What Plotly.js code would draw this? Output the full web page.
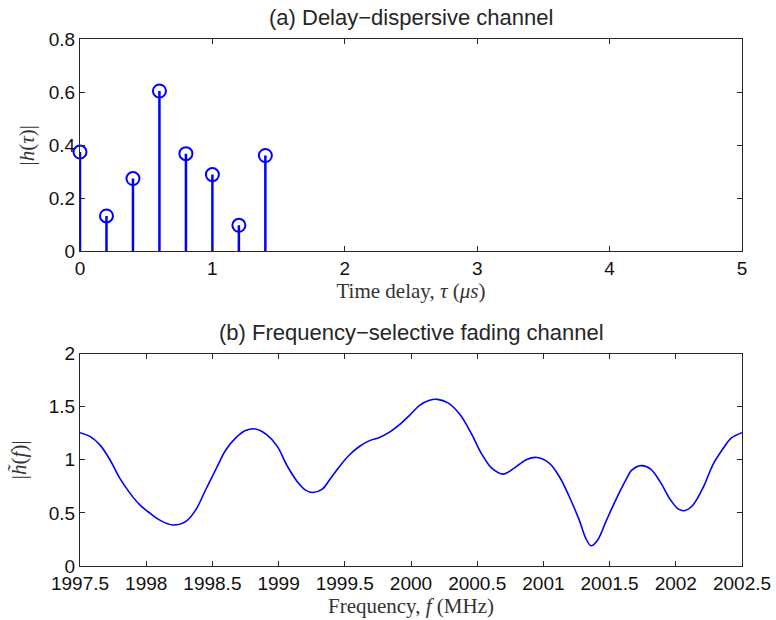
<!DOCTYPE html>
<html>
<head>
<meta charset="utf-8">
<script src="https://cdn.plot.ly/plotly-3.0.1.min.js"></script>
<style>
  html, body { margin: 0; padding: 0; background: #ffffff; }
  #chart { width: 776px; height: 620px; }
</style>
</head>
<body>
<div id="chart"></div>
<script>
// Tap delays (μs) and tap magnitudes of the multipath channel
const tapDelays = [0, 0.2, 0.4, 0.6, 0.8, 1.0, 1.2, 1.4];
const tapMagnitudes = [0.374, 0.133, 0.274, 0.604, 0.368, 0.289, 0.098, 0.361];

// Frequency response magnitude across the band (MHz)
const freqMHz = [
  1997.5, 1997.575, 1997.65, 1997.726, 1997.8, 1997.877, 1997.952, 1998.028, 1998.1, 1998.2,
  1998.3, 1998.375, 1998.45, 1998.53, 1998.6, 1998.68, 1998.75, 1998.825, 1998.91, 1998.99,
  1999.06, 1999.14, 1999.2, 1999.26, 1999.33, 1999.385, 1999.46, 1999.536, 1999.61, 1999.687,
  1999.762, 1999.838, 1999.913, 1999.989, 2000.065, 2000.14, 2000.2, 2000.28, 2000.37, 2000.46,
  2000.53, 2000.61, 2000.695, 2000.78, 2000.87, 2000.95, 2001.044, 2001.12, 2001.195, 2001.27,
  2001.32, 2001.36, 2001.41, 2001.472, 2001.547, 2001.623, 2001.665, 2001.74, 2001.81, 2001.88,
  2001.96, 2002.02, 2002.07, 2002.13, 2002.21, 2002.28, 2002.36, 2002.42, 2002.5
];
const freqResponse = [
  1.255, 1.22, 1.14, 1.0, 0.827, 0.686, 0.575, 0.497, 0.434, 0.386,
  0.42, 0.53, 0.72, 0.92, 1.09, 1.21, 1.275, 1.29, 1.236, 1.126,
  0.953, 0.796, 0.717, 0.692, 0.723, 0.811, 0.937, 1.047, 1.125, 1.18,
  1.21, 1.26, 1.33, 1.418, 1.512, 1.56, 1.568, 1.535, 1.425, 1.236,
  1.063, 0.921, 0.865, 0.921, 1.0, 1.022, 0.969, 0.842, 0.654, 0.434,
  0.261, 0.19, 0.245, 0.418, 0.623, 0.81, 0.9, 0.945, 0.912, 0.796,
  0.623, 0.535, 0.522, 0.575, 0.748, 0.953, 1.11, 1.205, 1.255
];

const delayTicks = [0, 1, 2, 3, 4, 5];
const tapTicks = [0, 0.2, 0.4, 0.6, 0.8];
const freqTicks = [1997.5, 1998, 1998.5, 1999, 1999.5, 2000, 2000.5, 2001, 2001.5, 2002, 2002.5];
const respTicks = [0, 0.5, 1, 1.5, 2];

const BLUE = '#0000ff';
const SANS = 'Liberation Sans, Arial, sans-serif';
const SERIF = 'Liberation Serif, Times New Roman, serif';

// Stem plot: open circles with vertical stems dropped to zero
const stems = {
  type: 'scatter',
  mode: 'markers',
  x: tapDelays,
  y: tapMagnitudes,
  xaxis: 'x', yaxis: 'y',
  cliponaxis: false,
  marker: { symbol: 'circle-open', size: 13, color: BLUE, line: { width: 2, color: BLUE } },
  error_y: {
    type: 'data', symmetric: false,
    array: tapMagnitudes.map(() => 0),
    arrayminus: tapMagnitudes,
    width: 0, thickness: 2.5, color: BLUE
  },
  hoverinfo: 'x+y'
};

const response = {
  type: 'scatter',
  mode: 'lines',
  x: freqMHz,
  y: freqResponse,
  xaxis: 'x2', yaxis: 'y2',
  line: { color: BLUE, width: 1.6, shape: 'spline', smoothing: 1 }
};

const axisCommon = {
  showgrid: false,
  zeroline: false,
  showline: true,
  linecolor: '#262626',
  linewidth: 1,
  mirror: 'ticks',
  ticks: 'inside',
  ticklen: 5,
  tickwidth: 1,
  tickcolor: '#262626',
  tickfont: { family: SANS, size: 19, color: '#111111' }
};

const axisTitleFont = { family: SERIF, size: 21, color: '#333333' };

const layout = {
  width: 776,
  height: 620,
  paper_bgcolor: '#ffffff',
  plot_bgcolor: '#ffffff',
  showlegend: false,
  margin: { l: 80, r: 33.5, t: 38.5, b: 54 },
  xaxis: Object.assign({}, axisCommon, {
    domain: [0, 1], anchor: 'y',
    range: [0, 5], tickvals: delayTicks, ticktext: delayTicks.map(String),
    title: { text: 'Time delay, <i>τ</i> (<i>μs</i>)', font: axisTitleFont, standoff: 5 }
  }),
  yaxis: Object.assign({}, axisCommon, {
    domain: [0.5972, 1], anchor: 'x',
    range: [0, 0.8], tickvals: tapTicks, ticktext: tapTicks.map(String),
    title: { text: '|<i>h</i>(<i>τ</i>)|', font: axisTitleFont, standoff: 8 }
  }),
  xaxis2: Object.assign({}, axisCommon, {
    domain: [0, 1], anchor: 'y2',
    range: [1997.5, 2002.5], tickvals: freqTicks, ticktext: freqTicks.map(String),
    title: { text: 'Frequency, <i>f</i> (MHz)', font: axisTitleFont, standoff: 3 }
  }),
  yaxis2: Object.assign({}, axisCommon, {
    domain: [0, 0.4032], anchor: 'x2',
    range: [0, 2], tickvals: respTicks, ticktext: respTicks.map(String),
    title: { text: '|<i>h̃</i>(<i>f</i>)|', font: axisTitleFont, standoff: 16 }
  }),
  annotations: [
    {
      text: '(a) Delay\u2212dispersive channel',
      xref: 'paper', yref: 'paper', x: 0.5, y: 1, yshift: 22,
      xanchor: 'center', yanchor: 'middle', showarrow: false,
      font: { family: SANS, size: 22, color: '#262626' }
    },
    {
      text: '(b) Frequency\u2212selective fading channel',
      xref: 'paper', yref: 'paper', x: 0.5, y: 0.4032, yshift: 21,
      xanchor: 'center', yanchor: 'middle', showarrow: false,
      font: { family: SANS, size: 22, color: '#262626' }
    }
  ]
};

Plotly.newPlot('chart', [stems, response], layout, { displayModeBar: false, staticPlot: true });
</script>
</body>
</html>
